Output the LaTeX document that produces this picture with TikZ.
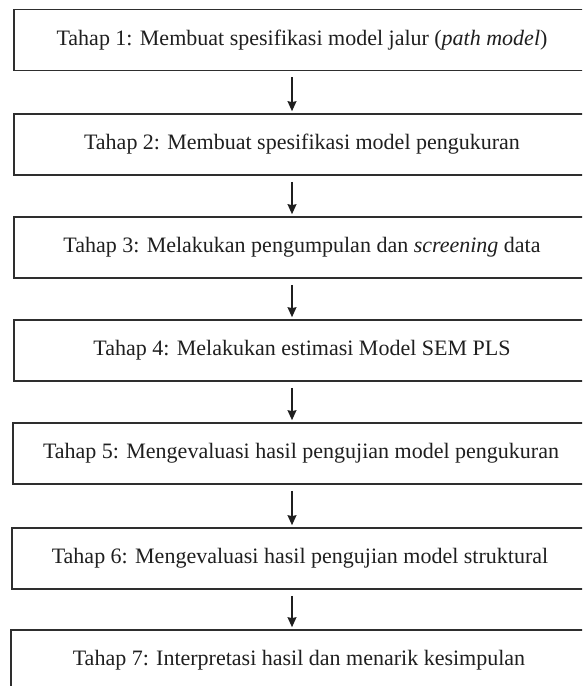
\documentclass[tikz,border=0pt]{standalone}
\usepackage{fontspec}
\setmainfont{Liberation Serif}
\usetikzlibrary{arrows.meta}
\begin{document}
\begin{tikzpicture}[x=1pt,y=-1pt,
  stagebox/.style={draw=black!82,line width=1.7pt,minimum width=576pt,minimum height=61pt,
    inner sep=0pt,font=\fontsize{22}{25}\selectfont,text=black!88},
  arr/.style={draw=black!88,line width=1.2pt,-{Stealth[length=10pt,width=9pt,inset=1pt]}}]
\clip (0,0) rectangle (582,686);
\fill[white] (0,0) rectangle (582,686);
\node[stagebox] (b1) at (302,40) {Tahap 1: Membuat spesifikasi model jalur (\textit{path model})};
\node[stagebox] (b2) at (302,144.5) {Tahap 2: Membuat spesifikasi model pengukuran};
\node[stagebox] (b3) at (302,247.5) {Tahap 3: Melakukan pengumpulan dan \textit{screening} data};
\node[stagebox] (b4) at (302,350.5) {Tahap 4: Melakukan estimasi Model SEM PLS};
\node[stagebox] (b5) at (301,453.5) {Tahap 5: Mengevaluasi hasil pengujian model pengukuran};
\node[stagebox] (b6) at (300,558.5) {Tahap 6: Mengevaluasi hasil pengujian model struktural};
\node[stagebox] (b7) at (299,660.5) {Tahap 7: Interpretasi hasil dan menarik kesimpulan};
\foreach \a/\b in {b1/b2,b2/b3,b3/b4,b4/b5,b5/b6,b6/b7}{
  \draw[arr] ([yshift=-6pt]\a.south -| 292,0) -- ([yshift=2pt]\b.north -| 292,0);
}
\end{tikzpicture}
\end{document}
